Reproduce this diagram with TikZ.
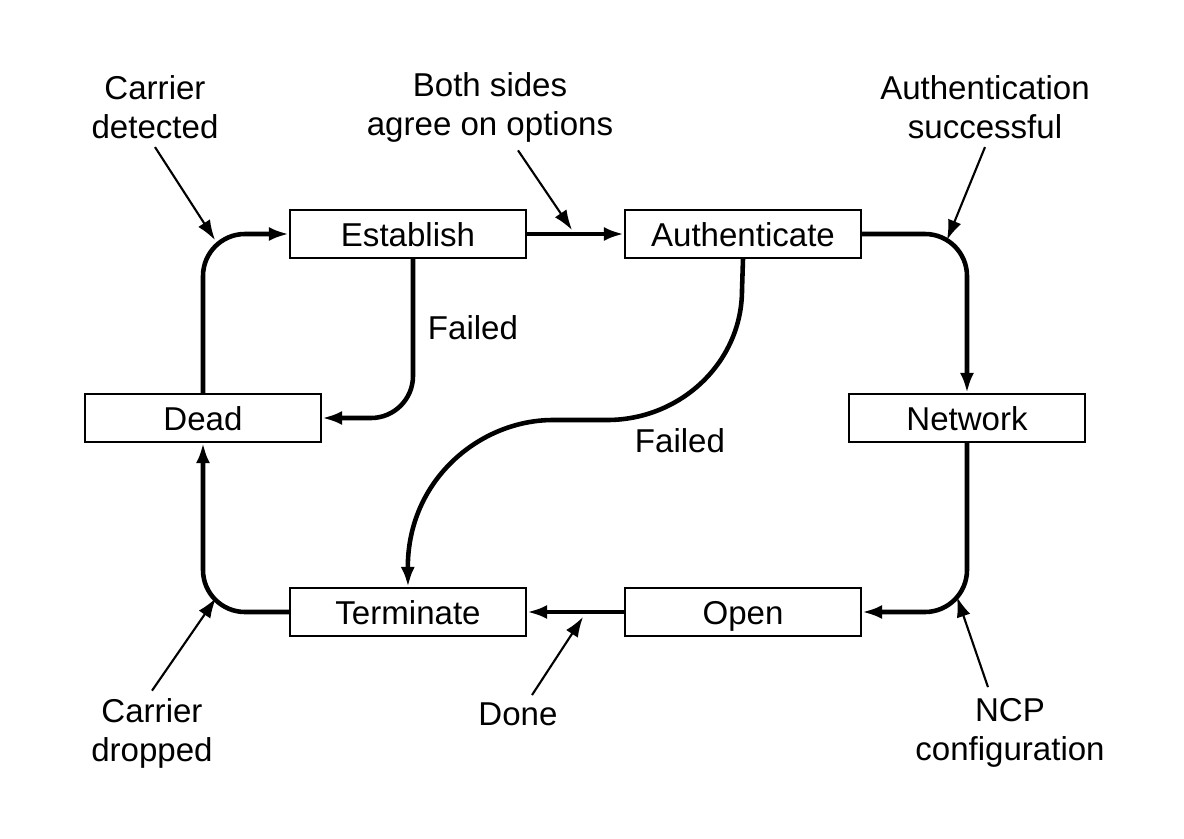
\documentclass[tikz,border=0pt]{standalone}
\usepackage{fontspec}
\setmainfont{Liberation Sans}
\usepackage{tikz}
\usetikzlibrary{arrows.meta}

\begin{document}
\begin{tikzpicture}[x=0.01cm, y=-0.01cm, >={Latex[length=0.2cm,width=0.14cm]},
  every node/.style={font=\fontsize{9.4}{11.1}\selectfont, align=center},
  state/.style={draw, line width=0.6pt, minimum width=2.36cm, minimum height=0.48cm, inner sep=0pt,
    text height=0.72em, text depth=0pt},
  flow/.style={->, line width=1.3pt, rounded corners=0.42cm},
  hint/.style={->, line width=0.6pt}]
  \useasboundingbox (0,0) rectangle (1184,839);

  % states
  \node[state] (establish) at (408,234) {Establish};
  \node[state] (authenticate) at (743,234) {Authenticate};
  \node[state] (dead) at (203,418) {Dead};
  \node[state] (network) at (967,418) {Network};
  \node[state] (terminate) at (408,612) {Terminate};
  \node[state] (open) at (743,612) {Open};

  % transitions
  \draw[flow] (dead.north) |- (establish.west);
  \draw[flow] (establish.east) -- (authenticate.west);
  \draw[flow] (authenticate.east) -| (network.north);
  \draw[flow] (network.south) |- (open.east);
  \draw[flow] (open.west) -- (terminate.east);
  \draw[flow] (terminate.west) -| (dead.south);
  \draw[flow] ([xshift=0.05cm]establish.south) |- (dead.east);
  \draw[flow, sharp corners] (authenticate.south) -- (742,290) .. controls (742,362) and (681,420) .. (607,420)
    -- (553,420) .. controls (480,420) and (407,480) .. (terminate.north);

  % labels
  \node (cdet) at (155,107) {Carrier\\detected};
  \node (agree) at (490,107) {Both sides\\agree on options};
  \node (authok) at (985,107) {Authentication\\successful};
  \node (fail1) at (473,328) {Failed};
  \node (fail2) at (680,441) {Failed};
  \node (cdrop) at (152,733) {Carrier\\dropped};
  \node (done) at (518,714) {Done};
  \node (ncp) at (1010,733) {NCP\\configuration};

  \coordinate (cdetTip) at (215,240);
  \coordinate (agreeTip) at (572,230);
  \coordinate (authokTip) at (947,240);
  \coordinate (cdropTip) at (216,598);
  \coordinate (doneTip) at (583,617);
  \coordinate (ncpTip) at (957,597);

  \draw[hint] ([yshift=0.04cm]cdet.south) -- (cdetTip);
  \draw[hint] ([xshift=0.28cm,yshift=0.04cm]agree.south) -- (agreeTip);
  \draw[hint] ([yshift=0.04cm]authok.south) -- (authokTip);
  \draw[hint] ([yshift=-0.05cm]cdrop.north) -- (cdropTip);
  \draw[hint] ([xshift=0.14cm,yshift=-0.05cm]done.north) -- (doneTip);
  \draw[hint] ([xshift=-0.22cm,yshift=-0.01cm]ncp.north) -- (ncpTip);
\end{tikzpicture}
\end{document}
